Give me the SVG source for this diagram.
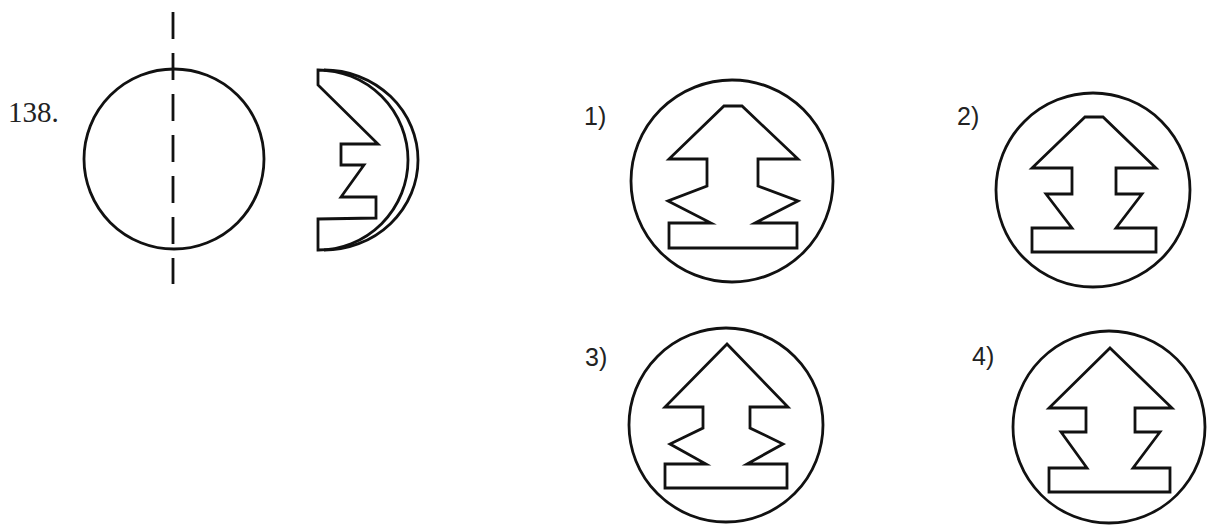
<svg xmlns="http://www.w3.org/2000/svg" width="1207" height="525" viewBox="0 0 1207 525">
<style>
.ln{fill:none;stroke:#111;stroke-width:2.8;stroke-linejoin:miter;stroke-miterlimit:10}
.num{font-family:"Liberation Serif",serif;font-size:29px;fill:#222}
.lbl{font-family:"Liberation Sans",sans-serif;font-size:25px;fill:#222}
</style>
<rect width="1207" height="525" fill="#fff"/>
<g id="question">
<text class="num" x="8" y="122">138.</text>
<circle class="ln" cx="174" cy="159" r="90"/>
<line class="ln" x1="173" y1="12" x2="173" y2="284" stroke-width="3" stroke-dasharray="27 14"/>
</g>
<g id="halfmoon">
<path class="ln" d="M318,70 L318,85 L378,144 L341,144 L341,165 L364,165 L341,197 L376,197 L376,218 L318,219 L318,250 A90,90 0 0 0 318,70 Z"/>
<path class="ln" d="M324,70 A94,90 0 0 1 324,250"/>
</g>
<g id="option1">
<text class="lbl" x="584" y="125">1)</text>
<circle class="ln" cx="732" cy="181" r="101"/>
<path class="ln" d="M724,106 L742,106 L798,159 L758,159 L758,186 L798,201 L755,223 L797,223 L797,248 L669,248 L669,223 L711,223 L668,201 L707,186 L707,159 L669,159 Z"/>
</g>
<g id="option2">
<text class="lbl" x="957" y="125">2)</text>
<circle class="ln" cx="1093" cy="190" r="97"/>
<path class="ln" d="M1085,117 L1103,117 L1156,168 L1116,168 L1116,194 L1142,194 L1116,228 L1156,228 L1156,252 L1032,252 L1032,228 L1072,228 L1046,194 L1072,194 L1072,168 L1032,168 Z"/>
</g>
<g id="option3">
<text class="lbl" x="585" y="366">3)</text>
<circle class="ln" cx="726" cy="425" r="97"/>
<path class="ln" d="M727,344 L788,407 L750,407 L750,428 L783,444 L747,464 L787,464 L787,488 L665,488 L665,464 L706,464 L670,444 L703,428 L703,407 L665,407 Z"/>
</g>
<g id="option4">
<text class="lbl" x="972" y="365">4)</text>
<circle class="ln" cx="1109" cy="427" r="96"/>
<path class="ln" d="M1110,348 L1172,408 L1135,408 L1135,432 L1160,432 L1133,468 L1170,468 L1170,492 L1049,492 L1049,468 L1087,468 L1061,432 L1086,432 L1086,408 L1049,408 Z"/>
</g>
</svg>
